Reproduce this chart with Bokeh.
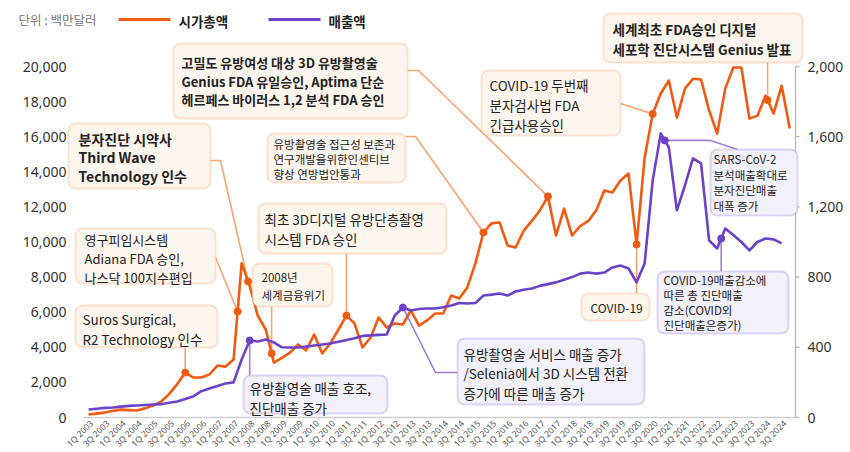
import numpy as np
from math import pi
from bokeh.plotting import figure
from bokeh.models import Range1d, BoxAnnotation, Label
from bokeh.embed import file_html
from bokeh.resources import INLINE
from bokeh.core.properties import value

# ---------------- data ----------------
years = list(range(2003, 2025))
quarters = [f"{q}Q {y}" for y in years for q in (1, 2, 3, 4)]
tick_labels = [f"{q}Q {y}" for y in years for q in (1, 3)]

# 시가총액 (백만달러), 1Q 2003 .. 4Q 2024
market_cap = [170, 220, 280, 370, 450, 420, 400, 520, 680, 900,
              1330, 1900, 2560, 2280, 2280, 2450, 2960, 2900, 3300, 8780,
              7500, 5800, 5000, 3130, 3400, 3700, 4160, 3820, 4730, 3650,
              4220, 5000, 5810, 5360, 3990, 4560, 5700, 5130, 5360, 5300,
              6100, 5240, 5530, 5930, 5930, 6950, 6780, 7410, 8780, 10540,
              11060, 11110, 9800, 9690, 10650, 11200, 11800, 12600, 10370, 11900,
              10370, 10900, 11200, 11800, 12930, 12820, 13500, 13900, 9860, 14800,
              17300, 18460, 19200, 17090, 18740, 19300, 19260, 17490, 16180, 18740,
              19940, 19940, 17030, 17200, 18340, 17320, 18910, 16470]

# 매출액 (백만달러), 1Q 2003 .. 3Q 2024
revenue = [46, 50, 55, 57, 62, 66, 68, 71, 74, 76,
           84, 91, 105, 120, 150, 165, 180, 194, 200, 330,
           439, 433, 444, 428, 400, 399, 399, 404, 410, 416,
           422, 432, 441, 452, 465, 468, 471, 473, 581, 627,
           610, 618, 621, 621, 628, 638, 652, 650, 652, 695,
           700, 707, 695, 718, 728, 735, 750, 760, 770, 785,
           800, 820, 826, 820, 826, 855, 866, 849, 770, 878,
           1351, 1619, 1539, 1180, 1322, 1476, 1448, 1009, 963, 1077,
           1040, 1000, 952, 1000, 1020, 1015, 992]

left_ticks = list(range(0, 20001, 2000))
right_ticks = list(range(0, 2001, 400))

# ---------------- layout helpers (picture pixels -> data units) ----------------
W, H = 850, 452
PX0, PXQ = 88.0, 8.06       # x of first quarter, px per quarter
PY0, PY20K = 417.0, 66.0    # y of 0 and of 20,000
AX_R = 795                  # right axis line

def X(px):
    return (px - PX0) / PXQ

def Y(py):
    return (PY0 - py) / (PY0 - PY20K) * 20000

ORANGE = "#EF5B12"
PURPLE = "#6B42C8"
O_BORDER, O_FILL = "#F8A474", "#FDF6EE"
P_BORDER, P_FILL = "#9C7FD9", "#F2F0F8"
TXT = "#222222"
KFONT = "Noto Sans CJK KR"
NFONT = "Noto Sans"

idx = np.arange(len(market_cap))
ridx = np.arange(len(revenue))

p = figure(width=W, height=H, output_backend="svg", toolbar_location=None,
           x_range=Range1d(X(0), X(W)), y_range=Range1d(Y(H), Y(0)),
           x_axis_location=None, y_axis_location=None,
           min_border_left=0, min_border_right=0, min_border_top=0, min_border_bottom=0)
p.extra_y_ranges = {"rev": Range1d(Y(H) / 10, Y(0) / 10)}
p.grid.visible = False
p.outline_line_color = None
p.background_fill_color = "white"
p.border_fill_color = "white"

# ---- axes (drawn through the scales) ----
p.text(x=[X(66)] * len(left_ticks), y=left_ticks, text=[f"{t:,}" for t in left_ticks],
       text_align="right", text_baseline="middle", text_font_size="14px",
       text_color="#333333", text_font=value(NFONT))
p.segment(x0=[X(AX_R)], x1=[X(AX_R)], y0=[0], y1=[right_ticks[-1]], y_range_name="rev",
          line_color="#b8b8b8", line_width=1.3)
p.segment(x0=[X(AX_R)] * len(right_ticks), x1=[X(AX_R + 4)] * len(right_ticks),
          y0=right_ticks, y1=right_ticks, y_range_name="rev", line_color="#b8b8b8", line_width=1.3)
p.text(x=[X(807)] * len(right_ticks), y=right_ticks, text=[f"{t:,}" for t in right_ticks],
       y_range_name="rev", text_align="left", text_baseline="middle", text_font_size="14px",
       text_color="#333333", text_font=value(NFONT))
p.segment(x0=[X(83)], x1=[X(AX_R)], y0=[0], y1=[0], line_color="#d0d0d0", line_width=1.5)

tick_idx = [quarters.index(t) for t in tick_labels]
p.text(x=tick_idx, y=[Y(421)] * len(tick_idx), text=tick_labels, angle=pi / 4,
       text_align="right", text_baseline="middle", x_offset=3,
       text_font_size="8.5px", text_color="#555555", text_font=value(NFONT))

# ---------------- annotations ----------------
def dot_of(kind, pos):
    s = market_cap if kind == "o" else revenue
    return pos, float(np.interp(pos, np.arange(len(s)), s))

# box=(l,t,r,b); path = connector points from box (None x -> dot x, "dot" y -> dot y);
# txy = (text left, centre of first line); pitch = line spacing in px
annotations = [
    dict(kind="o", pos=57, box=(173, 43, 407, 118), path=[(407, 70), (418, 70)],
         lines=["고밀도 유방여성 대상 3D 유방촬영술", "Genius FDA 유일승인, Aptima 단순",
                "헤르페스 바이러스 1,2 분석 FDA 승인"], fs=13, bold=True, txy=(181, 61), pitch=18.5),
    dict(kind="o", pos=19.8, box=(68, 123, 210, 188), path=[(210, 160), (220, 160)],
         lines=["분자진단 시약사", "Third Wave", "Technology 인수"], fs=14, bold=True,
         txy=(78, 137), pitch=19),
    dict(kind="o", pos=18.5, box=(75, 228, 215, 283), path=[(215, 257)],
         lines=["영구피임시스템", "Adiana FDA 승인,", "나스닥 100지수편입"], fs=13, bold=False,
         txy=(84, 238), pitch=19),
    dict(kind="o", pos=12, box=(75, 305, 217, 347), path=[(None, 347)],
         lines=["Suros Surgical,", "R2 Technology 인수"], fs=13.5, bold=False,
         txy=(82, 317), pitch=20),
    dict(kind="o", pos=22.72, box=(252, 263, 332, 306), path=[(None, 306)],
         lines=["2008년", "세계금융위기"], fs=11.5, bold=False, txy=(261, 276), pitch=18),
    dict(kind="o", pos=32, box=(258, 203, 446, 253), path=[(None, 253)],
         lines=["최초 3D디지털 유방단층촬영", "시스템 FDA 승인"], fs=13.5, bold=False,
         txy=(264, 217), pitch=20),
    dict(kind="o", pos=49, box=(267, 133, 405, 182), path=[(405, 136), (415, 136)],
         lines=["유방촬영술 접근성 보존과", "연구개발을위한인센티브", "향상 연방법안통과"], fs=11.5,
         bold=False, txy=(273, 143), pitch=15.7),
    dict(kind="o", pos=70, box=(481, 70, 620, 135), path=[(620, 103)],
         lines=["COVID-19 두번째", "분자검사법 FDA", "긴급사용승인"], fs=13.5, bold=False,
         txy=(489, 83), pitch=19.5),
    dict(kind="o", pos=84.25, box=(603, 13, 802, 62), path=[(None, 62)],
         lines=["세계최초 FDA승인 디지털", "세포학 진단시스템 Genius 발표"], fs=13.5, bold=True,
         txy=(612, 27), pitch=20),
    dict(kind="o", pos=68, box=(581, 293, 649, 320), path=[(None, 293)],
         lines=["COVID-19"], fs=12, bold=False, txy=(590, 306), pitch=16),
    dict(kind="p", pos=20, box=(243, 375, 387, 413), path=[(None, 375)],
         lines=["유방촬영술 매출 호조,", "진단매출 증가"], fs=13.5, bold=False,
         txy=(249, 386), pitch=20),
    dict(kind="p", pos=39, box=(457, 338, 644, 404), path=[(457, 372), (435, 372)],
         lines=["유방촬영술 서비스 매출 증가", "/Selenia에서 3D 시스템 전환", "증가에 따른 매출 증가"],
         fs=13.5, bold=False, txy=(463, 352), pitch=19),
    dict(kind="p", pos=71.5, box=(710, 149, 797, 215), path=[(737, 149), (710, "dot")],
         lines=["SARS-CoV-2", "분석매출확대로", "분자진단매출", "대폭 증가"], fs=11.5, bold=False,
         txy=(713, 158), pitch=16.3),
    dict(kind="p", pos=78.5, box=(657, 271, 788, 333), path=[(None, 271)],
         lines=["COVID-19매출감소에", "따른 총 진단매출", "감소(COVID외", "진단매출은증가)"], fs=11.5,
         bold=False, txy=(663, 279), pitch=15.6),
]

# connectors
for a in annotations:
    dx, dv = dot_of(a["kind"], a["pos"])
    dy = dv if a["kind"] == "o" else dv * 10
    xs, ys = [], []
    for (px, py) in a["path"]:
        xs.append(dx if px is None else X(px))
        ys.append(dy if py == "dot" else Y(py))
    xs.append(dx)
    ys.append(dy)
    p.line(xs, ys, line_color=O_BORDER if a["kind"] == "o" else P_BORDER, line_width=1.6)

# series
p.line(idx, market_cap, line_color=ORANGE, line_width=2.6, line_join="round")
p.line(ridx, revenue, y_range_name="rev", line_color=PURPLE, line_width=2.6, line_join="round")

# dots
for a in annotations:
    dx, dv = dot_of(a["kind"], a["pos"])
    if a["kind"] == "o":
        p.scatter([dx], [dv], size=7, color=ORANGE)
    else:
        p.scatter([dx], [dv], size=7, color=PURPLE, y_range_name="rev")

# boxes and their texts
LH_K = 1.46
for a in annotations:
    l, t, r, b = a["box"]
    o = a["kind"] == "o"
    p.add_layout(BoxAnnotation(left=X(l), right=X(r), top=Y(t), bottom=Y(b),
                               fill_color=O_FILL if o else P_FILL, fill_alpha=1,
                               line_color=O_BORDER if o else P_BORDER, line_width=2,
                               border_radius=7))
    tx, c1 = a["txy"]
    fs = a["fs"]
    p.add_layout(Label(x=X(tx), y=Y(c1 - 0.62 * fs), text="\n".join(a["lines"]),
                       text_align="left", text_baseline="top",
                       text_font=KFONT, text_font_size=f"{fs}px",
                       text_font_style="bold" if a["bold"] else "normal",
                       text_color=TXT, text_line_height=a["pitch"] / (fs * LH_K)))

# legend + unit
p.line([X(118), X(170)], [Y(19)] * 2, line_color=ORANGE, line_width=3)
p.line([X(268), X(320)], [Y(19)] * 2, line_color=PURPLE, line_width=3)
p.text(x=[X(178), X(328)], y=[Y(20)] * 2, text=["시가총액", "매출액"], text_align="left",
       text_baseline="middle", text_font=value(KFONT), text_font_size="13.5px",
       text_font_style="bold", text_color=TXT)
p.text(x=[X(18)], y=[Y(19)], text=["단위 : 백만달러"], text_align="left", text_baseline="middle",
       text_font=value(KFONT), text_font_size="12.5px", text_color="#777777")

open("out.html", "w").write(file_html(p, INLINE))
